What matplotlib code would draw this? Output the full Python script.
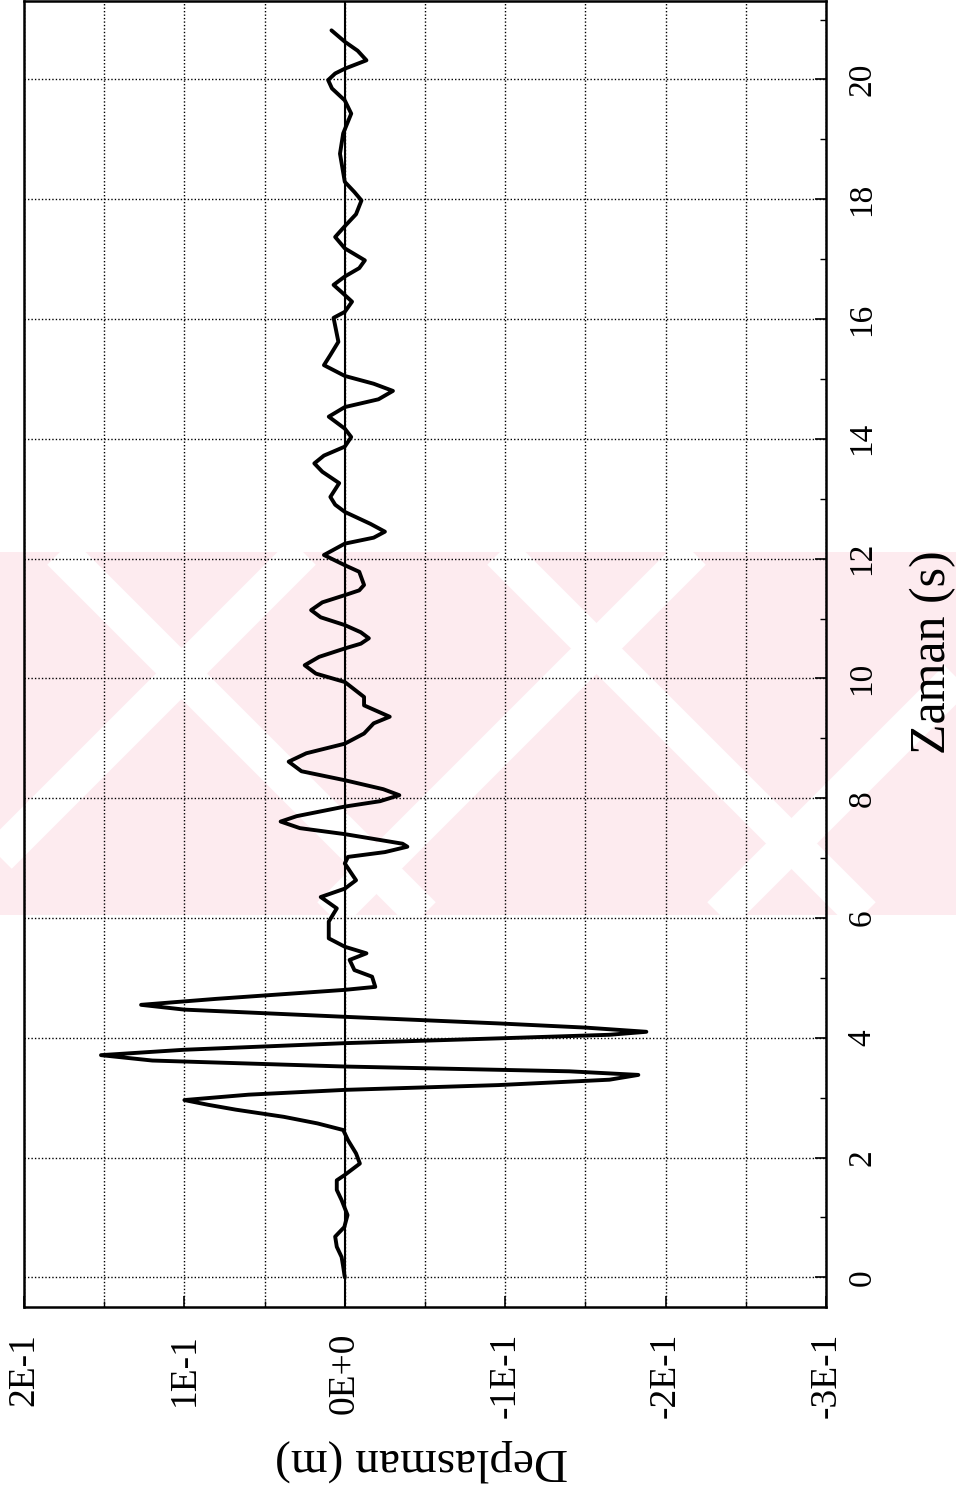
import matplotlib
matplotlib.use('Agg')
import matplotlib.pyplot as plt
from matplotlib.patches import Rectangle
from matplotlib.lines import Line2D
from matplotlib.ticker import MultipleLocator

plt.rcParams['font.family'] = ['Liberation Serif', 'DejaVu Serif']

# time (s) and displacement (m)
zaman = [0.0, 0.18, 0.34, 0.51, 0.68, 0.84, 1.04, 1.29, 1.46, 1.62,
         1.71, 1.90, 2.07, 2.29, 2.46, 2.57, 2.68, 2.80, 2.88, 2.96,
         3.05, 3.13, 3.21, 3.30, 3.38, 3.44, 3.52, 3.62, 3.71, 3.80,
         3.91, 3.99, 4.05, 4.10, 4.17, 4.24, 4.35, 4.47, 4.55, 4.65,
         4.80, 4.85, 5.02, 5.13, 5.30, 5.41, 5.52, 5.66, 5.94, 6.16,
         6.35, 6.49, 6.63, 6.91, 7.02, 7.10, 7.19, 7.24, 7.32, 7.40,
         7.50, 7.61, 7.70, 7.86, 7.95, 8.05, 8.15, 8.30, 8.45, 8.61,
         8.75, 8.91, 9.08, 9.25, 9.36, 9.55, 9.69, 9.94, 10.08, 10.22,
         10.36, 10.50, 10.58, 10.67, 10.77, 10.89, 11.02, 11.14, 11.27, 11.39,
         11.47, 11.56, 11.78, 11.89, 12.06, 12.25, 12.35, 12.45, 12.58, 12.78,
         12.90, 13.03, 13.26, 13.45, 13.59, 13.72, 13.87, 14.03, 14.17, 14.37,
         14.53, 14.66, 14.80, 14.92, 15.05, 15.23, 15.40, 15.62, 16.02, 16.12,
         16.29, 16.45, 16.57, 16.71, 16.85, 16.98, 17.18, 17.37, 17.55, 17.75,
         17.98, 18.12, 18.29, 18.76, 19.10, 19.43, 19.65, 19.85, 19.99, 20.10,
         20.18, 20.32, 20.48, 20.63, 20.82]
deplasman = [0.0, 0.001, 0.002, 0.005, 0.006, 0.0003, -0.0017, 0.002, 0.005, 0.005,
             0.0, -0.0094, -0.007, -0.002, 0.001, 0.017, 0.038, 0.068, 0.085, 0.100,
             0.060, 0.0, -0.0956, -0.165, -0.183, -0.14, 0.0, 0.12, 0.152, 0.10,
             0.0, -0.0956, -0.165, -0.188, -0.15, -0.0956, 0.0, 0.10, 0.127, 0.08,
             0.0, -0.019, -0.017, -0.006, -0.003, -0.0135, 0.0, 0.010, 0.010, 0.005,
             0.015, 0.0, -0.007, 0.0, -0.002, -0.025, -0.039, -0.036, -0.018, 0.0,
             0.028, 0.040, 0.030, 0.0, -0.022, -0.034, -0.024, 0.0, 0.027, 0.035,
             0.024, 0.0, -0.012, -0.018, -0.028, -0.012, -0.012, 0.0, 0.018, 0.025,
             0.016, 0.0, -0.010, -0.015, -0.010, 0.0, 0.015, 0.021, 0.014, 0.0,
             -0.009, -0.012, -0.009, 0.0, 0.013, 0.0, -0.018, -0.025, -0.016, 0.0,
             0.006, 0.009, 0.0035, 0.014, 0.019, 0.013, 0.0, -0.004, 0.0, 0.010,
             0.0, -0.021, -0.030, -0.018, 0.0, 0.013, 0.009, 0.004, 0.007, 0.0,
             -0.0045, 0.002, 0.007, 0.0, -0.009, -0.0125, 0.0, 0.006, 0.0, -0.007,
             -0.0104, -0.006, 0.0, 0.003, 0.001, -0.004, 0.0, 0.008, 0.0104, 0.006,
             0.0, -0.0135, -0.008, 0.0, 0.0083]

disp_ticks = [0.2, 0.1, 0.0, -0.1, -0.2, -0.3]
disp_labels = ['2E-1', '1E-1', '0E+0', '-1E-1', '-2E-1', '-3E-1']
time_ticks = [0, 2, 4, 6, 8, 10, 12, 14, 16, 18, 20]

W, H = 956, 1491
fig = plt.figure(figsize=(W / 100, H / 100), dpi=100)

# faint pink watermark band behind the plot, with white diagonal stripes
y_top, y_bot = 552, 915
band = Rectangle((0, 1 - y_bot / H), 1, (y_bot - y_top) / H, transform=fig.transFigure,
                 facecolor='#fdebef', edgecolor='none', zorder=-2)
fig.patches.append(band)
span = y_bot - y_top
for x0 in [60, 500]:
    st = Line2D([x0 / W, (x0 + span) / W], [1 - y_top / H, 1 - y_bot / H],
                transform=fig.transFigure, color='white', lw=26, zorder=-1,
                solid_capstyle='butt')
    st.set_clip_path(band)
    fig.add_artist(st)
for x0 in [-60, 330, 720]:
    st = Line2D([x0 / W, (x0 + span) / W], [1 - y_bot / H, 1 - y_top / H],
                transform=fig.transFigure, color='white', lw=26, zorder=-1,
                solid_capstyle='butt')
    st.set_clip_path(band)
    fig.add_artist(st)

# the chart is turned a quarter: time runs up, displacement runs across
ax = fig.add_axes([24 / W, 1 - 1306.7 / H, (826 - 24) / W, (1306.7 - 1) / H])
ax.set_facecolor('none')

ax.axvline(0, color='black', lw=1.5, zorder=2)
ax.plot(deplasman, zaman, color='black', lw=2.8, zorder=3,
        solid_joinstyle='round', solid_capstyle='round')

ax.set_xlim(0.2, -0.3)
ax.set_ylim(-0.49, 21.31)

ax.set_xticks(disp_ticks)
ax.set_xticklabels(disp_labels, rotation=90, fontsize=27)
ax.xaxis.set_minor_locator(MultipleLocator(0.05))
ax.set_yticks(time_ticks)
ax.yaxis.set_minor_locator(MultipleLocator(1))
ax.yaxis.tick_right()
for lbl in ax.get_yticklabels():
    lbl.set_rotation(90)
    lbl.set_va('center')
    lbl.set_fontsize(24)

ax.tick_params(axis='x', which='both', direction='in', pad=19, top=False)
ax.tick_params(axis='y', which='both', direction='in', pad=15, left=False)
ax.tick_params(which='major', length=8, width=1.2)
ax.tick_params(which='minor', length=4, width=1.0)

ax.grid(which='major', color='black', linestyle=(0, (1, 1.5)), lw=1.0)
ax.grid(which='minor', axis='x', color='black', linestyle=(0, (1, 1.5)), lw=1.0)

for sp in ax.spines.values():
    sp.set_linewidth(1.8)

fig.text(933 / W, 1 - 652 / H, 'Zaman (s)', rotation=90, ha='center', va='center',
         fontsize=36)
fig.text(421 / W, 1 - 1460 / H, 'Deplasman (m)', rotation=180, ha='center', va='center',
         fontsize=34)

fig.savefig('out.png', dpi=100)
